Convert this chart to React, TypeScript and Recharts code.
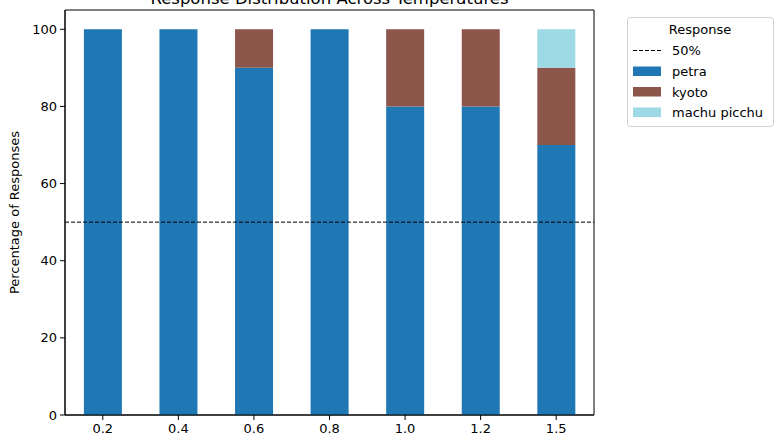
import React from 'react';
import { BarChart, Bar, XAxis, YAxis, ReferenceLine, ReferenceArea } from 'recharts';

const temperatures = ['0.2', '0.4', '0.6', '0.8', '1.0', '1.2', '1.5'];
const petra = [100, 100, 90, 100, 80, 80, 70];
const kyoto = [0, 0, 10, 0, 20, 20, 20];
const machuPicchu = [0, 0, 0, 0, 0, 0, 10];
const yTicks = [0, 20, 40, 60, 80, 100];

const series = [
  { key: 'petra', name: 'petra', color: '#1f77b4' },
  { key: 'kyoto', name: 'kyoto', color: '#8c564b' },
  { key: 'machu', name: 'machu picchu', color: '#9edae5' },
];

const chartData = temperatures.map((t, i) => ({
  temp: t,
  petra: petra[i],
  kyoto: kyoto[i],
  machu: machuPicchu[i],
}));

const FONT = '"DejaVu Sans", sans-serif';
const tickStyle = { fill: '#000', fontSize: 13, fontFamily: FONT };

// matplotlib-style legend box, placed outside the axes on the right
const LegendBox = () => (
  <svg width={150} height={112} style={{ position: 'absolute', top: 17, left: 627, overflow: 'visible' }}>
    <rect x={0.5} y={0.5} width={146} height={109} rx={3} fill="#fff" stroke="#d0d0d0" />
    <text x={73} y={12} textAnchor="middle" dominantBaseline="central" fontSize={13} fontFamily={FONT} fill="#000">
      Response
    </text>
    <line x1={6} x2={34} y1={33.5} y2={33.5} stroke="#000" strokeDasharray="4 2" strokeWidth={1} />
    <text x={45} y={33.5} dominantBaseline="central" fontSize={13} fontFamily={FONT} fill="#000">50%</text>
    {series.map((s, i) => (
      <g key={s.key}>
        <rect x={6} y={49.5 + i * 20.5} width={28} height={9.5} fill={s.color} />
        <text x={45} y={54.5 + i * 20.5} dominantBaseline="central" fontSize={13} fontFamily={FONT} fill="#000">
          {s.name}
        </text>
      </g>
    ))}
  </svg>
);

export default function App() {
  return (
    <div style={{ position: 'absolute', top: 0, left: 0, width: 780, height: 445, background: '#fff' }}>
      <BarChart
        width={780}
        height={445}
        data={chartData}
        margin={{ top: 10, right: 186, bottom: 0, left: 0 }}
        barCategoryGap="25%"
      >
        <XAxis
          dataKey="temp"
          tick={tickStyle}
          tickSize={5}
          tickMargin={4}
          axisLine={{ stroke: '#000' }}
          tickLine={{ stroke: '#000' }}
          height={30}
        />
        <YAxis
          domain={[0, 105]}
          ticks={yTicks}
          tick={tickStyle}
          tickSize={5}
          tickMargin={3}
          width={65}
          axisLine={{ stroke: '#000' }}
          tickLine={{ stroke: '#000' }}
          label={{
            value: 'Percentage of Responses',
            angle: -90,
            position: 'center',
            dx: -18,
            fill: '#000',
            fontSize: 13,
            fontFamily: FONT,
          }}
        />
        {series.map((s) => (
          <Bar key={s.key} dataKey={s.key} name={s.name} stackId="a" fill={s.color} isAnimationActive={false} />
        ))}
        <ReferenceLine y={50} stroke="#000" strokeDasharray="4 2" strokeWidth={1} />
        {/* axes frame (top and right spines) */}
        <ReferenceArea y1={0} y2={105} fill="none" stroke="#000" strokeWidth={1} fillOpacity={0} />
      </BarChart>
      <svg width={780} height={20} style={{ position: 'absolute', top: 0, left: 0, pointerEvents: 'none' }}>
        <text x={329.5} y={3.5} textAnchor="middle" fontSize={16.5} fontFamily={FONT} fill="#000">
          Response Distribution Across Temperatures
        </text>
      </svg>
      <LegendBox />
    </div>
  );
}
